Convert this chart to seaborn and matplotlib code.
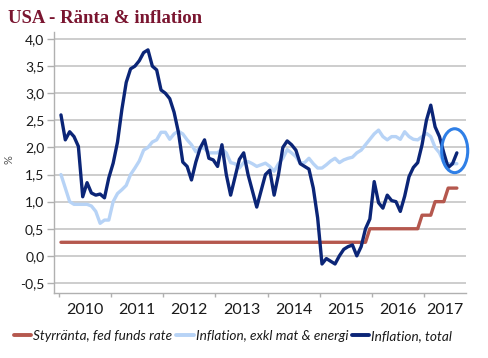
import numpy as np
import pandas as pd
import matplotlib
matplotlib.use("Agg")
import matplotlib.pyplot as plt
import seaborn as sns
from matplotlib.patches import Ellipse
from matplotlib.lines import Line2D
from matplotlib.ticker import FuncFormatter

# ---- data (monthly, Jan 2010 - Aug 2017) ----
years = ["2010", "2011", "2012", "2013", "2014", "2015", "2016", "2017"]

inflation_total = [
    2.6, 2.14, 2.29, 2.2, 2.02, 1.09, 1.35, 1.16, 1.12, 1.14, 1.07, 1.44,
    1.71, 2.1, 2.7, 3.2, 3.45, 3.5, 3.6, 3.75, 3.8, 3.5, 3.43, 3.06,
    3.0, 2.9, 2.65, 2.28, 1.73, 1.65, 1.4, 1.73, 1.99, 2.14, 1.8, 1.77,
    1.65, 2.05, 1.5, 1.12, 1.45, 1.78, 1.9, 1.5, 1.2, 0.9, 1.2, 1.5,
    1.58, 1.12, 1.5, 2.0, 2.12, 2.05, 1.95, 1.7, 1.65, 1.6, 1.25, 0.7,
    -0.15, -0.05, -0.1, -0.15, 0.0, 0.12, 0.17, 0.2, 0.0, 0.17, 0.5, 0.68,
    1.37, 0.98, 0.88, 1.12, 1.02, 1.0, 0.82, 1.1, 1.46, 1.63, 1.72, 2.05,
    2.5, 2.78, 2.38, 2.2, 1.9, 1.63, 1.7, 1.9,
]

inflation_core = [
    1.5, 1.25, 1.0, 0.95, 0.95, 0.95, 0.95, 0.92, 0.82, 0.6, 0.66, 0.66,
    1.0, 1.15, 1.22, 1.3, 1.5, 1.62, 1.75, 1.95, 2.0, 2.1, 2.14, 2.28,
    2.28, 2.15, 2.25, 2.3, 2.25, 2.14, 2.05, 1.92, 2.0, 1.98, 1.9, 1.9,
    1.9, 1.97, 1.9, 1.72, 1.7, 1.62, 1.72, 1.74, 1.7, 1.65, 1.68, 1.71,
    1.65, 1.56, 1.7, 1.8, 1.96, 1.9, 1.83, 1.71, 1.72, 1.8, 1.7, 1.62,
    1.62, 1.68, 1.75, 1.8, 1.72, 1.77, 1.8, 1.82, 1.9, 1.95, 2.05, 2.15,
    2.25, 2.32, 2.2, 2.14, 2.2, 2.2, 2.15, 2.29, 2.2, 2.15, 2.14, 2.2,
    2.26, 2.2, 2.0, 1.9, 1.72, 1.7, 1.7, 1.7,
]

fed_funds = [0.25] * 71 + [0.5] * 12 + [0.75] * 3 + [1.0] * 3 + [1.25] * 3

series_names = ["Styrränta, fed funds rate", "Inflation, exkl mat & energi", "Inflation, total"]
series_colors = ["#b5584e", "#b7d3f6", "#0b2577"]

n = len(inflation_total)
month_idx = np.arange(n)
df = pd.DataFrame({
    "month": np.tile(month_idx, 3),
    "value": fed_funds + inflation_core + inflation_total,
    "series": np.repeat(series_names, n),
})

# ---- figure ----
sns.set_theme(style="white")
plt.rcParams["font.family"] = ["Lato", "DejaVu Sans"]

fig = plt.figure(figsize=(4.88, 3.58), dpi=100)
ax = fig.add_axes([54 / 488, 1 - 292.7 / 358, (466 - 54) / 488, (292.7 - 32) / 358])

sns.lineplot(data=df, x="month", y="value", hue="series", hue_order=series_names,
             palette=series_colors, linewidth=2.4, ax=ax, legend=False, zorder=3)

ax.set_xlim(-1.6, 93.1)
ax.set_ylim(-0.68, 4.13)

yt = np.arange(-0.5, 4.01, 0.5)
ax.set_yticks(yt)
ax.yaxis.set_major_formatter(FuncFormatter(lambda v, p: f"{v:.1f}".replace(".", ",")))
ax.grid(axis="y", color="#c0c0c0", linewidth=1.1)
ax.grid(axis="x", visible=False)

tick_pos = [-0.5 + 12 * k for k in range(len(years))]
ax.set_xticks(tick_pos)
ax.set_xticklabels([])
label_pos = [5.5 + 12 * k for k in range(len(years) - 1)] + [(tick_pos[-1] + 93.1) / 2]
for lp, yr in zip(label_pos, years):
    ax.text(lp, -0.04, yr, transform=ax.get_xaxis_transform(), ha="center", va="top",
            fontsize=11.5, color="#1a1a1a")

ax.tick_params(axis="x", direction="out", length=3, color="#b0b0b0", width=1, bottom=True)
ax.tick_params(axis="y", direction="out", length=5, color="#b0b0b0", width=1, left=True,
               labelsize=10, labelcolor="#1a1a1a", pad=2)

for s in ["top", "right"]:
    ax.spines[s].set_visible(False)
for s in ["left", "bottom"]:
    ax.spines[s].set_color("#b0b0b0")
    ax.spines[s].set_linewidth(1)

ax.set_xlabel("")
ax.set_ylabel("%", fontsize=8, color="#555555")
ax.yaxis.set_label_coords(-0.095, 0.51)

# highlight ellipse around latest values
ax.add_patch(Ellipse((90.5, 1.94), width=6.0, height=0.81, fill=False,
                     edgecolor="#2f7fe6", linewidth=2.2, zorder=4, clip_on=False))

# title
fig.text(8 / 488, 1 - 10 / 358, "USA - Ränta & inflation", ha="left", va="top",
         fontsize=13.5, fontweight="bold", color="#7a1530",
         family=["Liberation Serif", "DejaVu Serif"])

# legend
handles = [Line2D([0], [0], color=c, linewidth=2.8) for c in series_colors]
leg = fig.legend(handles, series_names, loc="center", bbox_to_anchor=(233 / 488, 1 - 336 / 358),
                 ncol=3, frameon=False, handlelength=1.3, handletextpad=0.15,
                 columnspacing=0.25, prop={"style": "italic", "size": 9.8})
for t in leg.get_texts():
    t.set_color("#1a1a1a")

fig.savefig("out.png", dpi=100)
